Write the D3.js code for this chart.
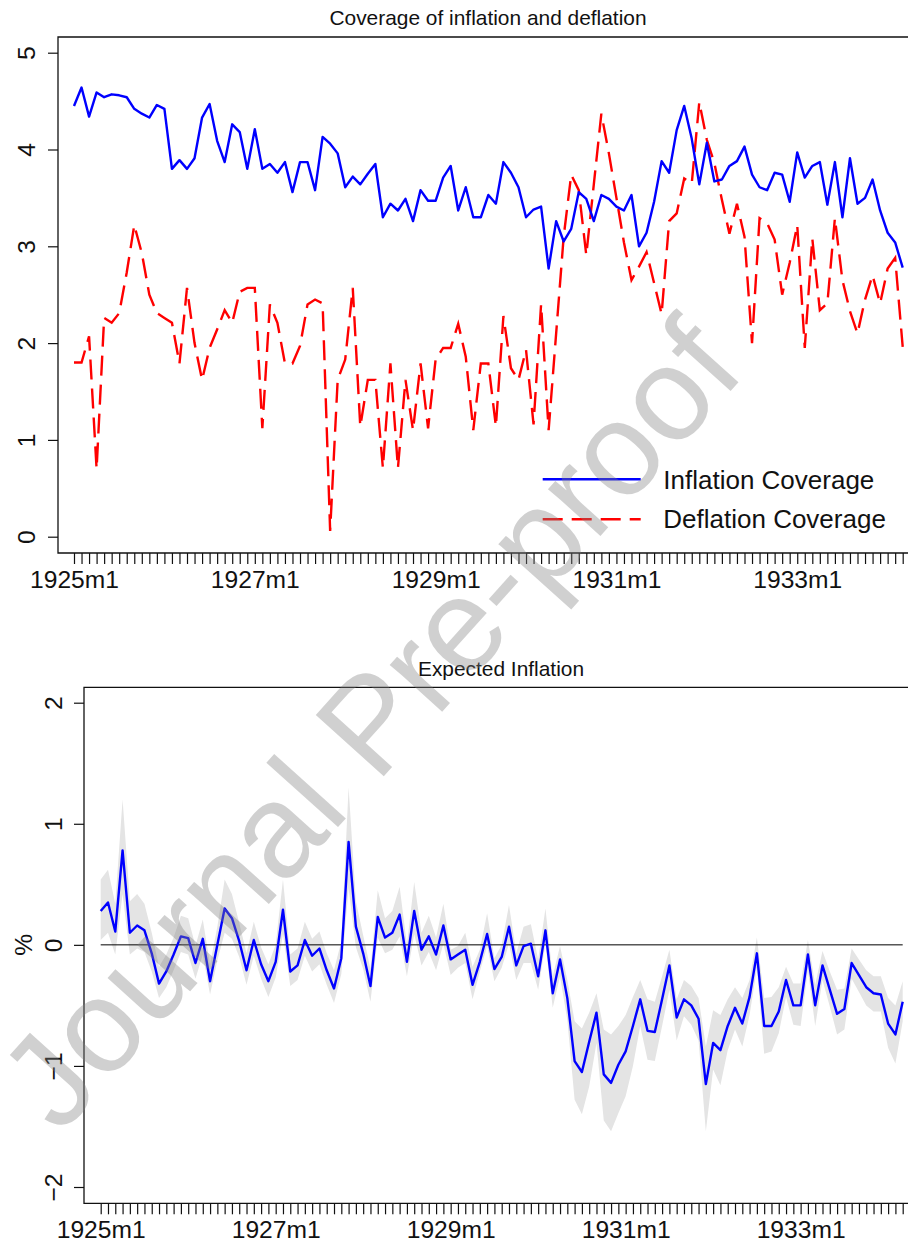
<!DOCTYPE html>
<html>
<head>
<meta charset="utf-8">
<script src="https://cdn.jsdelivr.net/npm/d3@7"></script>
<style>
  body { margin: 0; background: #fff; }
  svg { display: block; font-family: "Liberation Sans", Arial, Helvetica, sans-serif; }
</style>
</head>
<body>
<div id="canvas"></div>
<script>
// monthly periods 1925m1 .. 1934m3
var months = [];
for (var yr = 1925; yr <= 1934; yr++) {
  for (var m = 1; m <= 12; m++) {
    if (yr == 1934 && m > 3) break;
    months.push(yr + "m" + m);
  }
}
var labelledMonths = ["1925m1", "1927m1", "1929m1", "1931m1", "1933m1"];

// top panel: coverage indices
var inflationCoverage = [
  4.45,4.64,4.34,4.59,4.54,4.57,4.56,4.54,4.42,4.37,
  4.33,4.46,4.42,3.80,3.89,3.80,3.91,4.33,4.47,4.09,
  3.87,4.26,4.18,3.80,4.21,3.80,3.85,3.76,3.87,3.56,
  3.87,3.87,3.58,4.13,4.06,3.96,3.61,3.72,3.64,3.75,
  3.85,3.30,3.44,3.37,3.49,3.26,3.58,3.47,3.47,3.71,
  3.83,3.37,3.61,3.30,3.30,3.53,3.44,3.87,3.76,3.61,
  3.30,3.38,3.41,2.77,3.26,3.05,3.18,3.56,3.49,3.26,
  3.53,3.49,3.41,3.37,3.53,3.00,3.14,3.46,3.88,3.76,
  4.20,4.45,4.11,3.64,4.07,3.67,3.69,3.83,3.88,4.03,
  3.74,3.61,3.58,3.76,3.74,3.46,3.97,3.71,3.83,3.87,
  3.43,3.87,3.30,3.91,3.44,3.50,3.69,3.37,3.14,3.04,
  2.78
];
var deflationCoverage = [
  1.80,1.80,2.07,0.70,2.26,2.21,2.31,2.73,3.22,2.93,
  2.50,2.31,2.26,2.21,1.79,2.57,2.00,1.62,1.95,2.14,
  2.34,2.21,2.53,2.57,2.57,1.12,2.40,2.21,1.79,1.79,
  1.97,2.40,2.45,2.41,0.06,1.62,1.83,2.57,1.14,1.62,
  1.62,0.71,1.79,0.71,1.62,1.10,1.79,1.12,1.83,1.95,
  1.95,2.20,1.86,1.10,1.79,1.79,1.14,2.28,1.74,1.62,
  1.93,1.16,2.40,1.10,2.10,3.10,3.74,3.58,2.91,3.64,
  4.37,3.96,3.50,3.04,2.65,2.79,2.94,2.62,2.30,3.26,
  3.34,3.70,3.65,4.49,4.10,3.86,3.48,3.13,3.44,3.10,
  2.00,3.29,3.24,3.07,2.50,2.83,3.22,1.95,3.08,2.34,
  2.41,3.29,2.65,2.33,2.10,2.45,2.70,2.41,2.77,2.88,
  1.96
];

// bottom panel: expected inflation (%) and its band
var expectedInflation = [
  0.28,0.35,0.11,0.78,0.10,0.16,0.12,-0.07,-0.32,-0.22,
  -0.08,0.07,0.055,-0.15,0.05,-0.30,0.0,0.30,0.22,0.03,
  -0.21,0.04,-0.16,-0.30,-0.14,0.29,-0.22,-0.17,0.04,-0.09,
  -0.03,-0.21,-0.36,-0.11,0.85,0.15,-0.07,-0.34,0.23,0.06,
  0.10,0.25,-0.14,0.28,-0.04,0.07,-0.08,0.16,-0.12,-0.08,
  -0.04,-0.33,-0.14,0.09,-0.20,-0.10,0.15,-0.17,-0.01,0.01,
  -0.26,0.12,-0.40,-0.12,-0.44,-0.96,-1.05,-0.80,-0.56,-1.07,
  -1.14,-0.99,-0.88,-0.67,-0.45,-0.71,-0.72,-0.45,-0.17,-0.60,
  -0.45,-0.50,-0.61,-1.15,-0.81,-0.87,-0.67,-0.52,-0.65,-0.43,
  -0.07,-0.67,-0.67,-0.55,-0.29,-0.50,-0.50,-0.08,-0.50,-0.17,
  -0.37,-0.57,-0.53,-0.15,-0.25,-0.35,-0.40,-0.41,-0.65,-0.74,
  -0.47
];
var bandUpper = [
  0.54,0.62,0.34,1.20,0.36,0.42,0.34,0.10,-0.18,-0.08,
  0.06,0.24,0.22,-0.01,0.21,-0.16,0.15,0.54,0.42,0.18,
  -0.07,0.19,-0.02,-0.16,0.0,0.54,-0.08,-0.03,0.19,0.05,
  0.11,-0.07,-0.21,0.03,1.30,0.36,0.08,-0.20,0.45,0.22,
  0.28,0.48,0.0,0.52,0.10,0.24,0.06,0.34,-0.04,-0.01,
  0.10,-0.18,-0.04,0.26,-0.11,0.0,0.33,-0.07,0.15,0.17,
  -0.12,0.30,-0.26,-0.01,-0.29,-0.63,-0.69,-0.56,-0.40,-0.70,
  -0.74,-0.67,-0.58,-0.43,-0.29,-0.45,-0.47,-0.26,-0.04,-0.45,
  -0.29,-0.34,-0.44,-0.84,-0.54,-0.58,-0.45,-0.35,-0.44,-0.29,
  0.06,-0.44,-0.43,-0.35,-0.18,-0.32,-0.32,0.04,-0.33,-0.05,
  -0.22,-0.37,-0.36,-0.03,-0.12,-0.21,-0.26,-0.26,-0.44,-0.50,
  -0.30
];
var bandLower = [
  0.04,0.10,-0.08,0.42,-0.08,-0.03,-0.06,-0.22,-0.44,-0.35,
  -0.21,-0.06,-0.08,-0.28,-0.08,-0.41,-0.13,0.10,0.05,-0.10,
  -0.33,-0.09,-0.28,-0.43,-0.27,0.09,-0.34,-0.29,-0.09,-0.22,
  -0.16,-0.33,-0.48,-0.24,0.47,-0.02,-0.20,-0.47,0.06,-0.07,
  -0.04,0.07,-0.26,0.09,-0.17,-0.06,-0.21,0.01,-0.25,-0.19,
  -0.15,-0.45,-0.22,-0.01,-0.30,-0.19,0.01,-0.29,-0.15,-0.15,
  -0.37,0.01,-0.52,-0.26,-0.62,-1.28,-1.40,-1.17,-0.81,-1.45,
  -1.54,-1.39,-1.25,-1.00,-0.67,-0.95,-0.96,-0.67,-0.37,-0.79,
  -0.59,-0.66,-0.79,-1.54,-1.03,-1.16,-0.87,-0.70,-0.84,-0.58,
  -0.19,-0.90,-0.88,-0.73,-0.43,-0.66,-0.67,-0.21,-0.67,-0.29,
  -0.51,-0.74,-0.70,-0.28,-0.39,-0.50,-0.55,-0.55,-0.85,-0.98,
  -0.63
];
var topTicks = [0, 1, 2, 3, 4, 5];
var bottomTicks = [-2, -1, 0, 1, 2];

var width = 908, height = 1243;
var svg = d3.select("#canvas").append("svg")
    .attr("width", width)
    .attr("height", height);

// draws the frame (left, top, bottom; right side is cut off the page)
function frame(g, left, top, bottom) {
  g.append("path")
    .attr("d", "M" + (width + 20) + "," + top + "H" + left + "V" + bottom + "H" + (width + 20))
    .attr("fill", "none")
    .attr("stroke", "#111")
    .attr("stroke-width", 1.3);
}

function xAxis(g, x, y0, padding) {
  var ax = g.append("g")
    .attr("transform", "translate(0," + y0 + ")")
    .call(d3.axisBottom(x).tickValues(months).tickSize(11).tickSizeOuter(0).tickPadding(padding)
      .tickFormat(function(d){ return labelledMonths.indexOf(d) >= 0 ? d : ""; }));
  ax.select(".domain").remove();
  ax.selectAll(".tick line").attr("stroke", "#111").attr("stroke-width", 1.2);
  ax.selectAll(".tick text").attr("font-size", 24.6).attr("fill", "#111")
    .attr("font-family", "Liberation Sans, Arial, sans-serif");
}

function yAxis(g, y, x0, ticks, shift) {
  var ax = g.append("g")
    .attr("transform", "translate(" + x0 + ",0)")
    .call(d3.axisLeft(y).tickValues(ticks).tickSize(10).tickSizeOuter(0).tickFormat(d3.format("d")));
  ax.select(".domain").remove();
  ax.selectAll(".tick line").attr("stroke", "#111").attr("stroke-width", 1.2);
  ax.selectAll(".tick text")
    .attr("x", null).attr("dy", null)
    .attr("transform", "translate(" + shift + ",0) rotate(-90)")
    .attr("text-anchor", "middle")
    .attr("font-size", 24.6).attr("fill", "#111")
    .attr("font-family", "Liberation Sans, Arial, sans-serif");
}

// ---------- top panel ----------
var top1 = svg.append("g");
var x1 = d3.scalePoint().domain(months).range([74, 902.7]);
var y1 = d3.scaleLinear().domain([0, 5]).range([536.7, 52.7]);

var lineInf = d3.line().x(function(d, i){ return x1(months[i]); }).y(function(d){ return y1(d); });

top1.append("path").datum(deflationCoverage)
  .attr("d", lineInf)
  .attr("fill", "none").attr("stroke", "#ff0000").attr("stroke-width", 2.4)
  .attr("stroke-dasharray", "20,9");
top1.append("path").datum(inflationCoverage)
  .attr("d", lineInf)
  .attr("fill", "none").attr("stroke", "#0000ff").attr("stroke-width", 2.4)
  .attr("stroke-linejoin", "round");

frame(top1, 58, 37, 553);
xAxis(top1, x1, 553, 6.8);
yAxis(top1, y1, 58, topTicks, -23);

top1.append("text")
  .attr("x", 488).attr("y", 25.3)
  .attr("text-anchor", "middle")
  .attr("font-size", 20.9).attr("fill", "#111")
  .text("Coverage of inflation and deflation");

// legend
var legend = top1.append("g");
legend.append("line").attr("x1", 542.7).attr("x2", 640.7).attr("y1", 479.3).attr("y2", 479.3)
  .attr("stroke", "#0000ff").attr("stroke-width", 2.4);
legend.append("line").attr("x1", 542.7).attr("x2", 640.7).attr("y1", 519.3).attr("y2", 519.3)
  .attr("stroke", "#ff0000").attr("stroke-width", 2.4).attr("stroke-dasharray", "20,9");
legend.append("text").attr("x", 663.3).attr("y", 489.3).attr("font-size", 26).attr("fill", "#111")
  .text("Inflation Coverage");
legend.append("text").attr("x", 663.3).attr("y", 528.3).attr("font-size", 26).attr("fill", "#111")
  .text("Deflation Coverage");

// ---------- bottom panel ----------
var bot = svg.append("g");
var x2 = d3.scalePoint().domain(months).range([100.7, 902.7]);
var y2 = d3.scaleLinear().domain([-2, 2]).range([1187, 702.7]);

var band = d3.area()
  .x(function(d, i){ return x2(months[i]); })
  .y0(function(d, i){ return y2(bandLower[i]); })
  .y1(function(d, i){ return y2(bandUpper[i]); });
bot.append("path").datum(expectedInflation)
  .attr("d", band)
  .attr("fill", "#e4e4e4");

bot.append("line")
  .attr("x1", x2(months[0])).attr("x2", x2(months[months.length - 1]))
  .attr("y1", y2(0)).attr("y2", y2(0))
  .attr("stroke", "#000").attr("stroke-width", 1);

bot.append("path").datum(expectedInflation)
  .attr("d", d3.line().x(function(d, i){ return x2(months[i]); }).y(function(d){ return y2(d); }))
  .attr("fill", "none").attr("stroke", "#0000ff").attr("stroke-width", 2.4)
  .attr("stroke-linejoin", "round");

frame(bot, 84, 687.3, 1203.3);
xAxis(bot, x2, 1203.3, 6);
yAxis(bot, y2, 84, bottomTicks, -22.3);

bot.append("text")
  .attr("transform", "translate(31.7," + y2(0) + ") rotate(-90)")
  .attr("text-anchor", "middle")
  .attr("font-size", 24.6).attr("fill", "#111")
  .text("%");

bot.append("text")
  .attr("x", 501).attr("y", 676)
  .attr("text-anchor", "middle")
  .attr("font-size", 20.9).attr("fill", "#111")
  .text("Expected Inflation");

// watermark
svg.append("text")
  .attr("transform", "translate(60,1136) rotate(-48)")
  .attr("font-size", 133)
  .attr("fill", "#808080")
  .attr("fill-opacity", 0.37)
  .text("Journal Pre-proof");
</script>
</body>
</html>
